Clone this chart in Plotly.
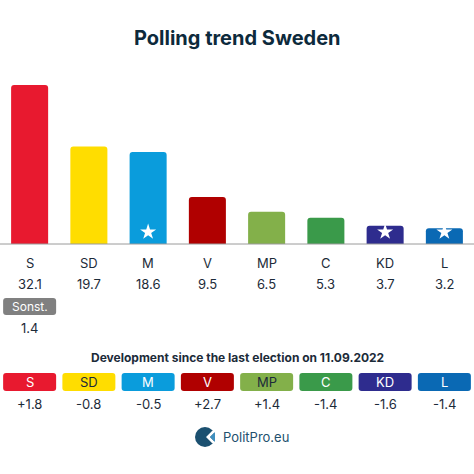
import plotly.graph_objects as go

parties = ["S", "SD", "M", "V", "MP", "C", "KD", "L"]
values = [32.1, 19.7, 18.6, 9.5, 6.5, 5.3, 3.7, 3.2]
value_labels = ["32.1", "19.7", "18.6", "9.5", "6.5", "5.3", "3.7", "3.2"]
colors = ["#e8192f", "#ffdd00", "#0a9cdc", "#b00000", "#83b04a", "#3a9a4a", "#2e2c8e", "#0a69b4"]
government = [False, False, True, False, False, False, True, True]
other_label = "Sonst."
other_value = "1.4"
changes = ["+1.8", "-0.8", "-0.5", "+2.7", "+1.4", "-1.4", "-1.6", "-1.4"]
dark_text = [False, True, False, False, True, False, False, False]
title = "Polling trend Sweden"
subtitle = "Development since the last election on 11.09.2022"
brand = "PolitPro.eu"

W = H = 474
FONT = "Inter, Roboto, Arial, sans-serif"
TXT = "#1c2b39"

def py(p):  # pixel row -> paper y
    return 1 - p / H

base_px, top_px = 244, 80
px_per_unit = 4.95
yr = (base_px - top_px) / px_per_unit
xs = list(range(len(parties)))
x_per_px = 8.0 / W

fig = go.Figure()
fig.add_trace(go.Bar(
    x=xs, y=values, width=0.625,
    marker=dict(color=colors, line=dict(width=0), cornerradius=3),
    hoverinfo="skip",
))
star_x = [x for x, g in zip(xs, government) if g]
fig.add_trace(go.Scatter(
    x=star_x, y=[12 / px_per_unit] * len(star_x), mode="markers",
    marker=dict(symbol="star", size=12, color="white", line=dict(width=0)),
    hoverinfo="skip",
))

def txt(text, x, y, xref="x", size=13, color=TXT, xanchor="center"):
    return dict(text=text, x=x, y=y, xref=xref, yref="paper", showarrow=False,
                xanchor=xanchor, yanchor="middle",
                font=dict(family=FONT, size=size, color=color))

ann = [txt(f"<b>{title}</b>", 0.5, py(38), xref="paper", size=20, color="#0d2a3c")]
for x, p, v in zip(xs, parties, value_labels):
    ann.append(txt(p, x, py(263)))
    ann.append(txt(v, x, py(284)))

shapes = []
def rrect(x0, x1, y0p, y1p, r, color):
    rx = r * x_per_px
    ry = r / H
    Y0, Y1 = py(y1p), py(y0p)  # bottom, top
    path = (f"M {x0+rx},{Y0} L {x1-rx},{Y0} Q {x1},{Y0} {x1},{Y0+ry} "
            f"L {x1},{Y1-ry} Q {x1},{Y1} {x1-rx},{Y1} L {x0+rx},{Y1} "
            f"Q {x0},{Y1} {x0},{Y1-ry} L {x0},{Y0+ry} Q {x0},{Y0} {x0+rx},{Y0} Z")
    shapes.append(dict(type="path", path=path, xref="x", yref="paper",
                       fillcolor=color, line=dict(width=0), layer="below"))

hw = 26.5 * x_per_px
rrect(xs[0] - hw, xs[0] + hw, 298, 315, 3, "#808080")
ann.append(txt(other_label, xs[0], py(306.5), size=12, color="white"))
ann.append(txt(other_value, xs[0], py(328)))

ann.append(txt(f"<b>{subtitle}</b>", 0.5, py(357), xref="paper", size=12, color="#1c2b39"))
for x, p, c, ch, dk in zip(xs, parties, colors, changes, dark_text):
    rrect(x - hw, x + hw, 373, 391, 3, c)
    ann.append(txt(p, x, py(382), color="#1c2b39" if dk else "white"))
    ann.append(txt(ch, x, py(404)))

# logo
cx, cy, r = 205 / W, py(437), 10
shapes.append(dict(type="circle", xref="paper", yref="paper",
                   x0=cx - r / W, x1=cx + r / W, y0=cy - r / H, y1=cy + r / H,
                   fillcolor="#1b5070", line=dict(width=0)))
shapes.append(dict(type="path", xref="paper", yref="paper",
                   path=f"M {(cx*W+1)/W},{cy} L {(cx*W+7)/W},{cy+6/H} L {(cx*W+11)/W},{cy+6/H} "
                        f"L {(cx*W+5)/W},{cy} L {(cx*W+11)/W},{cy-6/H} L {(cx*W+7)/W},{cy-6/H} Z",
                   fillcolor="white", line=dict(width=0)))
shapes.append(dict(type="path", xref="paper", yref="paper",
                   path=f"M {(cx*W+5)/W},{cy} L {(cx*W+10)/W},{cy+5/H} L {(cx*W+10)/W},{cy-5/H} Z",
                   fillcolor="#3f8fbf", line=dict(width=0)))
ann.append(txt(brand, 221 / W, cy, xref="paper", color="#22506e", xanchor="left"))

fig.update_layout(
    width=W, height=H, margin=dict(l=0, r=0, t=0, b=0),
    paper_bgcolor="white", plot_bgcolor="white", showlegend=False,
    xaxis=dict(range=[-0.5, 7.5], showticklabels=False, showgrid=False, zeroline=False,
               showline=False, fixedrange=True),
    yaxis=dict(range=[0, yr], domain=[py(base_px), py(top_px)], showticklabels=False,
               showgrid=False, zeroline=False, fixedrange=True),
    annotations=ann, shapes=shapes,
)
fig.add_shape(type="line", xref="paper", yref="paper", x0=0, x1=1,
              y0=py(base_px), y1=py(base_px), line=dict(color="#9a9a9a", width=1))
fig.write_html("out.html", config={"displayModeBar": False},
               post_script="document.body.style.margin='0';document.body.style.overflow='hidden';")
